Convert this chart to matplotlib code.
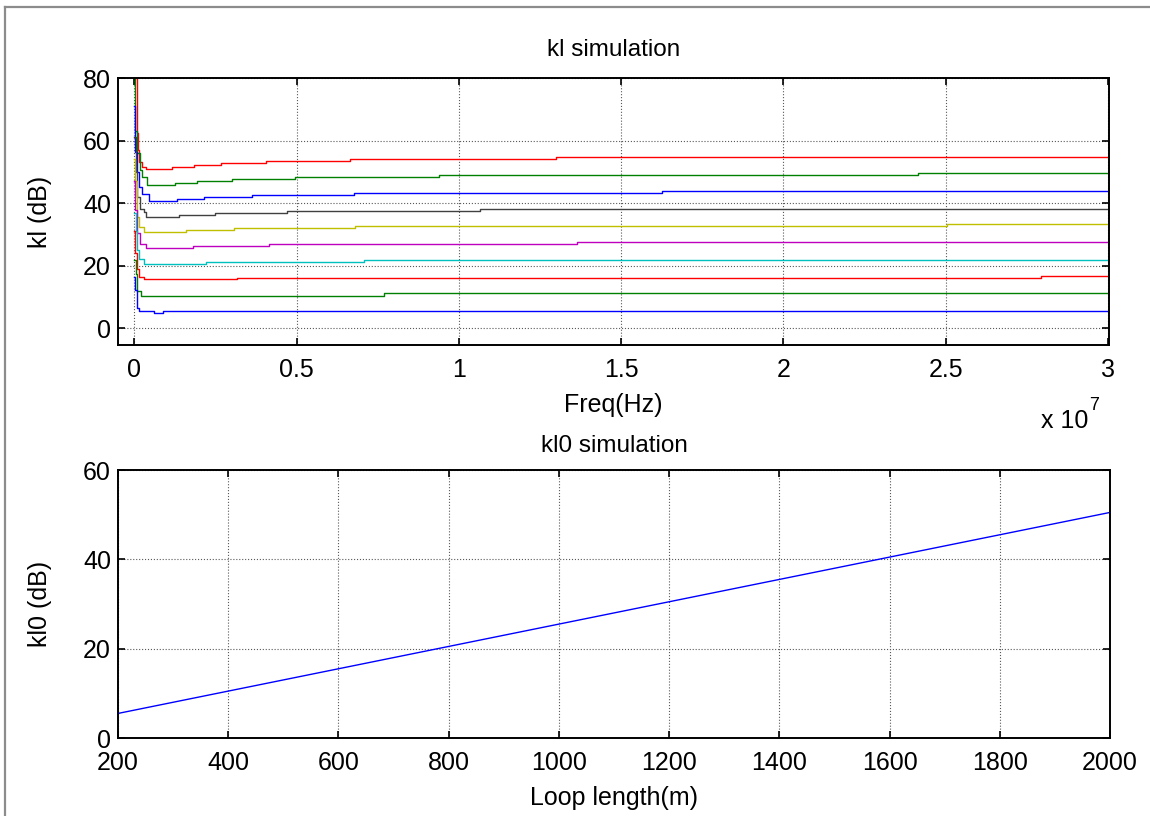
import matplotlib
matplotlib.use('Agg')
import matplotlib.pyplot as plt
from matplotlib.lines import Line2D
from matplotlib.ticker import FuncFormatter

plt.rcParams['font.family'] = ['Liberation Sans', 'DejaVu Sans']

# kl curves: breakpoints (freq in MHz, kl in dB), drawn as steps
f1 = [0, 0.04, 0.09, 0.11, 0.16, 0.25, 0.37, 1.16, 1.83, 2.67, 4.06, 6.66, 13.0, 30.0]
v1 = [95, 80, 62.3, 57.0, 53.2, 51.6, 50.9, 51.7, 52.2, 52.7, 53.5, 54.1, 54.8, 54.8]
f2 = [0, 0.03, 0.08, 0.18, 0.24, 0.39, 1.26, 1.93, 3.01, 4.96, 9.4, 24.14, 30.0]
v2 = [82, 63, 56, 50.5, 48.4, 45.9, 46.55, 47.2, 47.8, 48.5, 49.1, 49.8, 49.8]
f3 = [0, 0.03, 0.08, 0.16, 0.24, 0.44, 1.31, 2.16, 3.63, 6.76, 16.26, 30.0]
v3 = [71, 56.3, 50.0, 45.2, 43.0, 40.8, 41.45, 42.1, 42.7, 43.4, 44.0, 44.0]
f4 = [0, 0.04, 0.10, 0.18, 0.29, 0.35, 1.37, 2.50, 4.70, 10.66, 30.0]
v4 = [61, 50, 42, 38.3, 37.2, 35.7, 36.35, 37.0, 37.6, 38.3, 38.3]
f5 = [0, 0.03, 0.08, 0.16, 0.29, 1.60, 3.06, 6.81, 25.04, 30.0]
v5 = [54, 47, 35.6, 32.5, 30.7, 31.35, 32.0, 32.6, 33.3, 33.3]
f6 = [0, 0.03, 0.10, 0.18, 0.35, 1.81, 4.14, 13.64, 30.0]
v6 = [47, 37.7, 30.5, 27.1, 25.7, 26.35, 27.0, 27.6, 27.6]
f7 = [0, 0.04, 0.08, 0.16, 0.29, 2.22, 7.07, 30.0]
v7 = [37, 31, 25, 22.2, 20.7, 21.35, 22.0, 22.0]
f8 = [0, 0.03, 0.08, 0.16, 0.29, 3.18, 27.95, 30.0]
v8 = [31, 24, 19, 16.3, 15.7, 16.2, 16.9, 16.9]
f9 = [0, 0.04, 0.08, 0.20, 7.71, 30.0]
v9 = [22, 17.5, 12, 10.5, 11.2, 11.2]
f10 = [0, 0.03, 0.08, 0.16, 0.60, 0.90, 30.0]
v10 = [16.5, 12.2, 6.5, 5.5, 4.8, 5.5, 5.5]

curves = [(f1, v1), (f2, v2), (f3, v3), (f4, v4), (f5, v5),
          (f6, v6), (f7, v7), (f8, v8), (f9, v9), (f10, v10)]
colors = ['r', (0, 0.5, 0), 'b', (0.25, 0.25, 0.25), (0.75, 0.75, 0),
          (0.75, 0, 0.75), (0, 0.75, 0.75), 'r', (0, 0.5, 0), 'b']

# kl0 vs loop length
loop_len = [200, 400, 600, 800, 1000, 1200, 1400, 1600, 1800, 2000]
kl0 = [5.5, 10.5, 15.5, 20.5, 25.5, 30.5, 35.5, 40.5, 45.5, 50.5]

fig = plt.figure(figsize=(11.5, 8.16), dpi=100)

# gray frame (top and left edges visible)
fig.add_artist(Line2D([5/1150, 1.0], [1-7/816, 1-7/816], color='0.55', lw=1.6))
fig.add_artist(Line2D([5/1150, 5/1150], [0, 1-7/816], color='0.55', lw=1.6))

ax1 = fig.add_axes([118/1150, (816-345)/816, 991/1150, 267/816])
ax2 = fig.add_axes([118/1150, (816-738)/816, 992/1150, 268/816])

for (f, v), c in zip(curves, colors):
    ax1.step([x*1e6 for x in f], v, where='post', color=c, lw=1.0)

ax1.set_xlim(-0.05e7, 3.003e7)
ax1.set_ylim(-5.3, 80)
ax1.set_xticks([0, 0.5e7, 1e7, 1.5e7, 2e7, 2.5e7, 3e7])
ax1.set_yticks([0, 20, 40, 60, 80])
ax1.xaxis.set_major_formatter(FuncFormatter(lambda x, p: '%g' % (x/1e7)))
ax1.set_title('kl simulation', fontsize=17.5, pad=16)
ax1.set_xlabel('Freq(Hz)', fontsize=18, labelpad=8)
ax1.set_ylabel('kl (dB)', fontsize=18, labelpad=22)
fig.text(1041/1150, 1-421/816, 'x 10', fontsize=18, va='center', ha='left')
fig.text(1089/1150, 1-405/816, '7', fontsize=13, va='center', ha='left')

ax2.plot(loop_len, kl0, color='b', lw=1.0)
ax2.set_xlim(200, 2000)
ax2.set_ylim(0, 60)
ax2.set_xticks(range(200, 2001, 200))
ax2.set_yticks([0, 20, 40, 60])
ax2.set_title('kl0 simulation', fontsize=17.5, pad=13)
ax2.set_xlabel('Loop length(m)', fontsize=18, labelpad=8)
ax2.set_ylabel('kl0 (dB)', fontsize=18, labelpad=22)

for ax in (ax1, ax2):
    ax.grid(True, linestyle=':', color='0.35', lw=0.8)
    ax.tick_params(direction='in', top=True, right=True, length=5,
                   width=1.2, labelsize=18)
    ax.tick_params(axis='x', pad=9)
    ax.tick_params(axis='y', pad=5)
    for s in ax.spines.values():
        s.set_linewidth(1.4)

fig.savefig('out.png', dpi=100)
